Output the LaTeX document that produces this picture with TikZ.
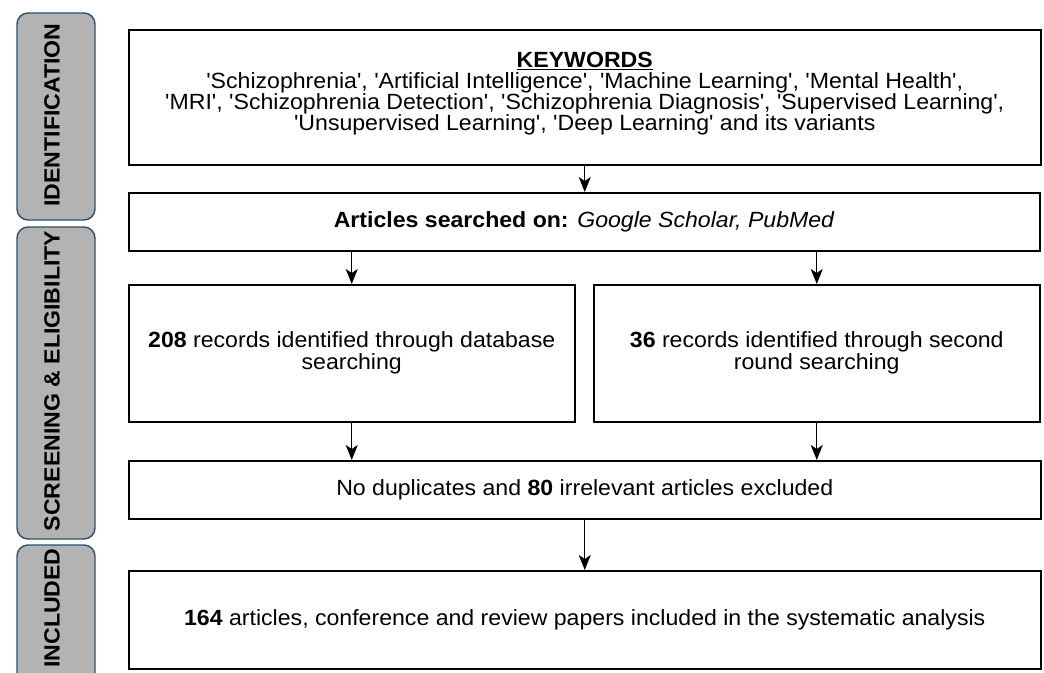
\documentclass[tikz,border=0pt]{standalone}
\usepackage{fontspec}
\setmainfont[FakeStretch=1.05, Ligatures=TeXOff]{Liberation Sans}
\usetikzlibrary{arrows.meta}
\definecolor{lblfill}{HTML}{B3B3B3}
\definecolor{lbldraw}{HTML}{2E4F6B}
\begin{document}
\begin{tikzpicture}[x=1pt,y=-1pt,
  box/.style={draw=black, line width=1.5pt, fill=white, anchor=north west, inner sep=0pt, align=center, font=\fontsize{22}{22}\selectfont},
  lbl/.style={draw=lbldraw, fill=lblfill, line width=1.4pt, rounded corners=11pt},
  lbltext/.style={rotate=90, font=\fontsize{22}{22}\selectfont\bfseries, inner sep=0pt},
  arr/.style={line width=1.4pt, -{Stealth[length=15pt,width=12pt,inset=4pt]}}]
\useasboundingbox (0,0) rectangle (1044,672);
% side labels
\draw[lbl] (17,13) rectangle (95,220);
\node[lbltext] (lid) at (52,115) {IDENTIFICATION};
\draw[lbl] (17,227) rectangle (95,539);
\node[lbltext] (lsc) at (52,381) {SCREENING \& ELIGIBILITY};
\draw[lbl] (17,545) rectangle (95,695);
\node[lbltext] (lin) at (52,608) {INCLUDED};
% boxes
\node[box] (kw) at (128,29)
  {\parbox[t][135pt][t]{912pt}{\centering\fontsize{22}{21}\selectfont\vspace*{22pt}%
   \underline{\textbf{KEYWORDS}}\\
   'Schizophrenia', 'Artificial Intelligence', 'Machine Learning', 'Mental Health',\\
   'MRI', 'Schizophrenia Detection', 'Schizophrenia Diagnosis', 'Supervised Learning',\\
   'Unsupervised Learning', 'Deep Learning' and its variants\par}};
\node[box, minimum width=911pt, minimum height=58pt] (art) at (128,192)
  {\textbf{Articles searched on:} \textit{Google Scholar, PubMed}};
\node[box, minimum width=446pt, minimum height=137pt] (l) at (128,284)
  {\textbf{208} records identified through database\\ searching};
\node[box, minimum width=446pt, minimum height=137pt] (r) at (593,284)
  {\textbf{36} records identified through second\\ round searching};
\node[box, minimum width=912pt, minimum height=58pt] (dup) at (128,460)
  {No duplicates and \textbf{80} irrelevant articles excluded};
\node[box, minimum width=912pt, minimum height=98pt] (fin) at (128,570)
  {\textbf{164} articles, conference and review papers included in the systematic analysis};
% arrows
\draw[arr] (kw.south) -- (kw.south |- art.north);
\draw[arr] (art.south -| l.north) -- (l.north);
\draw[arr] (art.south -| r.north) -- (r.north);
\draw[arr] (l.south) -- (l.south |- dup.north);
\draw[arr] (r.south) -- (r.south |- dup.north);
\draw[arr] (dup.south) -- (dup.south |- fin.north);
\end{tikzpicture}
\end{document}
